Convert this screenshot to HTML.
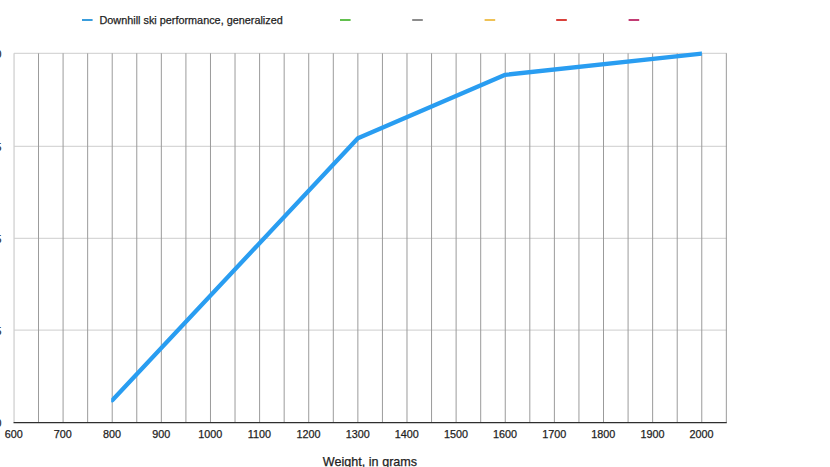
<!DOCTYPE html>
<html><head><meta charset="utf-8"><style>
html,body{margin:0;padding:0;background:#fff;width:830px;height:467px;overflow:hidden}
svg{display:block;font-family:"Liberation Sans",sans-serif}
text{stroke-width:0.25px}
</style></head><body>
<svg width="830" height="467" viewBox="0 0 830 467">
<g stroke="#cdcdcd" stroke-width="1"><line x1="14" y1="53.3" x2="726.8" y2="53.3" /><line x1="14" y1="146.3" x2="726.8" y2="146.3" /><line x1="14" y1="238.3" x2="726.8" y2="238.3" /><line x1="14" y1="330.1" x2="726.8" y2="330.1" /></g>
<line x1="14.06" y1="53.3" x2="14.06" y2="422" stroke="#d0d0d0" stroke-width="1.3"/>
<g stroke="#9b9b9b" stroke-width="1"><line x1="38.52" y1="53.3" x2="38.52" y2="422" /><line x1="63.08" y1="53.3" x2="63.08" y2="422" /><line x1="87.65" y1="53.3" x2="87.65" y2="422" /><line x1="112.21" y1="53.3" x2="112.21" y2="422" /><line x1="136.78" y1="53.3" x2="136.78" y2="422" /><line x1="161.34" y1="53.3" x2="161.34" y2="422" /><line x1="185.91" y1="53.3" x2="185.91" y2="422" /><line x1="210.47" y1="53.3" x2="210.47" y2="422" /><line x1="235.03" y1="53.3" x2="235.03" y2="422" /><line x1="259.60" y1="53.3" x2="259.60" y2="422" /><line x1="284.17" y1="53.3" x2="284.17" y2="422" /><line x1="308.73" y1="53.3" x2="308.73" y2="422" /><line x1="333.30" y1="53.3" x2="333.30" y2="422" /><line x1="357.86" y1="53.3" x2="357.86" y2="422" /><line x1="382.43" y1="53.3" x2="382.43" y2="422" /><line x1="406.99" y1="53.3" x2="406.99" y2="422" /><line x1="431.56" y1="53.3" x2="431.56" y2="422" /><line x1="456.12" y1="53.3" x2="456.12" y2="422" /><line x1="480.69" y1="53.3" x2="480.69" y2="422" /><line x1="505.25" y1="53.3" x2="505.25" y2="422" /><line x1="529.82" y1="53.3" x2="529.82" y2="422" /><line x1="554.38" y1="53.3" x2="554.38" y2="422" /><line x1="578.95" y1="53.3" x2="578.95" y2="422" /><line x1="603.51" y1="53.3" x2="603.51" y2="422" /><line x1="628.08" y1="53.3" x2="628.08" y2="422" /><line x1="652.64" y1="53.3" x2="652.64" y2="422" /><line x1="677.21" y1="53.3" x2="677.21" y2="422" /><line x1="701.77" y1="53.3" x2="701.77" y2="422" /><line x1="726.34" y1="53.3" x2="726.34" y2="422" /></g>
<line x1="13.5" y1="422.6" x2="726.8" y2="422.6" stroke="#2e2e2e" stroke-width="1.3"/>
<g font-size="10.8" fill="#1e1e1e" stroke="#1e1e1e" text-anchor="middle"><text x="13.75" y="438.0">600</text><text x="62.88" y="438.0">700</text><text x="112.01" y="438.0">800</text><text x="161.14" y="438.0">900</text><text x="210.27" y="438.0">1000</text><text x="259.40" y="438.0">1100</text><text x="308.53" y="438.0">1200</text><text x="357.66" y="438.0">1300</text><text x="406.79" y="438.0">1400</text><text x="455.92" y="438.0">1500</text><text x="505.05" y="438.0">1600</text><text x="554.18" y="438.0">1700</text><text x="603.31" y="438.0">1800</text><text x="652.44" y="438.0">1900</text><text x="701.57" y="438.0">2000</text></g>
<g font-size="10.6" fill="#1e1e1e" stroke="#1e1e1e"><text x="1.3" y="57.6" text-anchor="end">0</text><text x="1.3" y="150.8" text-anchor="end">5</text><text x="1.3" y="242.8" text-anchor="end">5</text><text x="1.3" y="334.6" text-anchor="end">5</text><text x="1.3" y="427.3" text-anchor="end">0</text></g>
<text x="370" y="466" font-size="12.6" fill="#1e1e1e" stroke="#1e1e1e" text-anchor="middle">Weight, in grams</text>
<rect x="82" y="19" width="10.6" height="2" fill="#3a9ddc"/>
<text x="99.5" y="24" font-size="10.85" fill="#1e1e1e" stroke="#1e1e1e">Downhill ski performance, generalized</text>
<rect x="340" y="19" width="10.6" height="2" fill="#62c04e"/><rect x="412.2" y="19" width="10.6" height="2" fill="#8c8c8c"/><rect x="484.6" y="19" width="10.6" height="2" fill="#efc256"/><rect x="556.2" y="19" width="10.6" height="2" fill="#d9403a"/><rect x="628.6" y="19" width="10.6" height="2" fill="#c23c74"/>
<defs><clipPath id="c"><rect x="111.21" y="0" width="590.66" height="467"/></clipPath></defs><path clip-path="url(#c)" d="M112.31,400.20 L357.86,138.30 L505.25,74.80 L701.77,53.70" fill="none" stroke="#299df1" stroke-width="4.3" stroke-linejoin="round" stroke-linecap="round"/>
</svg>
</body></html>
